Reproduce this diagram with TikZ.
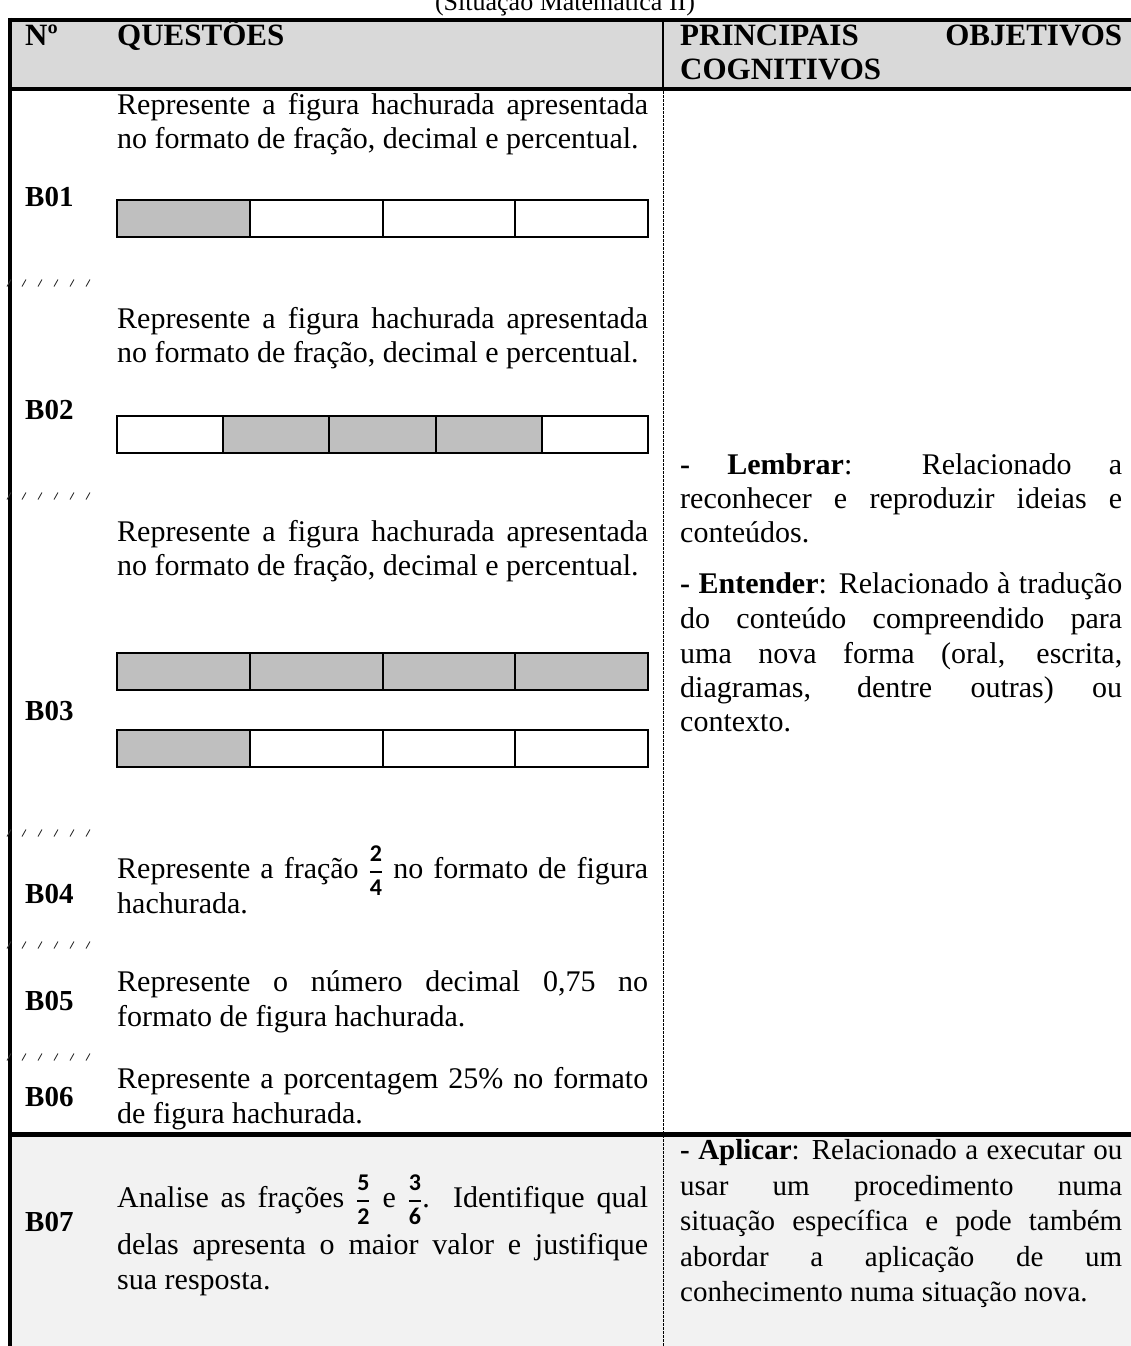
\documentclass[tikz,border=0pt]{standalone}
\usepackage{fontspec}
\usepackage{amsmath}
\setmainfont{Liberation Serif}
\newfontfamily\fracfont{Carlito}
\definecolor{hdrgray}{HTML}{D9D9D9}
\definecolor{shadecell}{HTML}{BFBFBF}
\definecolor{rowgray}{HTML}{F2F2F2}
\newcommand{\myfrac}[2]{$\genfrac{}{}{1.6pt}{0}{\mbox{\fracfont\bfseries\fontsize{24}{24}\selectfont #1}}{\mbox{\fracfont\bfseries\fontsize{24}{24}\selectfont #2}}$}
\newcommand{\jline}[2]{\makebox[#1][s]{#2}}
\tikzset{
  txt/.style={anchor=base west, inner sep=0pt, font=\fontsize{30}{34}\selectfont},
  txtb/.style={anchor=base west, inner sep=0pt, font=\fontsize{29}{34}\selectfont},
  lbl/.style={anchor=base west, inner sep=0pt, font=\fontsize{29}{34}\selectfont\bfseries},
  hdr/.style={anchor=base west, inner sep=0pt, font=\fontsize{31}{34}\selectfont\bfseries},
  ttl/.style={anchor=base, inner sep=0pt, font=\fontsize{26}{30}\selectfont},
  barcell/.style={draw=black, line width=2pt},
  hatchmark/.style={line width=0.9pt, black!80},
  dashdiv/.style={line width=0.9pt, dash pattern=on 2.5pt off 1.5pt},
  thickrule/.style={line width=4.5pt},
}
\begin{document}
\begin{tikzpicture}[x=1pt,y=-1pt]
\clip (0,0) rectangle (1131,1346);
% backgrounds
\fill[hdrgray] (10,20) rectangle (1140,89);
\fill[rowgray] (10,1134) rectangle (1140,1350);
% title
\node[ttl] (title) at (565,11) {(Situação Matemática II)};
% header rules
\draw[thickrule] (8,20) -- (1140,20);
\draw[thickrule] (8,89) -- (1140,89);
\draw[thickrule] (10,18) -- (10,1350);
\draw[line width=2.5pt] (663,20) -- (663,89);
\draw[dashdiv] (663,91) -- (663,1350);
\draw[line width=5pt] (8,1134) -- (1140,1134);
% header texts
\node[hdr] (hn) at (25,46) {Nº};
\node[hdr] (hq) at (117,46) {QUESTÕES};
\node[hdr] (hp) at (680,46) {\jline{442pt}{PRINCIPAIS OBJETIVOS}};
\node[hdr] (hc) at (680,79) {COGNITIVOS};
% hatch separators
\foreach \yy in {283,496,833,945,1057}{
  \foreach \xx in {9,24,40,56,72,88}{
    \draw[hatchmark] (\xx-2,\yy+3.5) -- (\xx+2,\yy-3.5);
  }
}
% B01
\node[txt] (q1a) at (117,114) {\jline{531pt}{Represente a figura hachurada apresentada}};
\node[txt] (q1b) at (117,148) {no formato de fração, decimal e percentual.};
\node[lbl] (b1) at (25,206) {B01};
\fill[shadecell] (117,200) rectangle (249.75,237);
\draw[barcell] (117,200) rectangle (648,237);
\foreach \xx in {249.75,382.5,515.25}{\draw[barcell] (\xx,200) -- (\xx,237);}
% B02
\node[txt] (q2a) at (117,328) {\jline{531pt}{Represente a figura hachurada apresentada}};
\node[txt] (q2b) at (117,362) {no formato de fração, decimal e percentual.};
\node[lbl] (b2) at (25,419) {B02};
\fill[shadecell] (223.2,416) rectangle (541.8,453);
\draw[barcell] (117,416) rectangle (648,453);
\foreach \xx in {223.2,329.4,435.6,541.8}{\draw[barcell] (\xx,416) -- (\xx,453);}
% B03
\node[txt] (q3a) at (117,541) {\jline{531pt}{Represente a figura hachurada apresentada}};
\node[txt] (q3b) at (117,575) {no formato de fração, decimal e percentual.};
\node[lbl] (b3) at (25,720) {B03};
\fill[shadecell] (117,653) rectangle (648,690);
\draw[barcell] (117,653) rectangle (648,690);
\foreach \xx in {249.75,382.5,515.25}{\draw[barcell] (\xx,653) -- (\xx,690);}
\fill[shadecell] (117,730) rectangle (249.75,767);
\draw[barcell] (117,730) rectangle (648,767);
\foreach \xx in {249.75,382.5,515.25}{\draw[barcell] (\xx,730) -- (\xx,767);}
% B04
\node[txt] (q4a) at (117,878) {\jline{531pt}{Represente a fração \myfrac{2}{4} no formato de figura}};
\node[txt] (q4b) at (117,913) {hachurada.};
\node[lbl] (b4) at (25,903) {B04};
% B05
\node[txt] (q5a) at (117,991) {\jline{531pt}{Represente o número decimal 0,75 no}};
\node[txt] (q5b) at (117,1026) {formato de figura hachurada.};
\node[lbl] (b5) at (25,1010) {B05};
% B06
\node[txt] (q6a) at (117,1088) {\jline{531pt}{Represente a porcentagem 25\% no formato}};
\node[txt] (q6b) at (117,1123) {de figura hachurada.};
\node[lbl] (b6) at (25,1106) {B06};
% right column, upper section
\node[txt] (r1) at (680,474) {\jline{442pt}{\textbf{-} \textbf{Lembrar}: Relacionado a}};
\node[txt] (r2) at (680,508) {\jline{442pt}{reconhecer e reproduzir ideias e}};
\node[txt] (r3) at (680,542) {conteúdos.};
\node[txt] (r4) at (680,593) {\jline{442pt}{\textbf{- Entender}: Relacionado à tradução}};
\node[txt] (r5) at (680,628) {\jline{442pt}{do conteúdo compreendido para}};
\node[txt] (r6) at (680,663) {\jline{442pt}{uma nova forma (oral, escrita,}};
\node[txt] (r7) at (680,697) {\jline{442pt}{diagramas, dentre outras) ou}};
\node[txt] (r8) at (680,731) {contexto.};
% B07
\node[lbl] (b7) at (25,1231) {B07};
\node[txt] (q7a) at (117,1207) {\jline{531pt}{Analise as frações \myfrac{5}{2} e \myfrac{3}{6}. Identifique qual}};
\node[txt] (q7b) at (117,1254) {\jline{531pt}{delas apresenta o maior valor e justifique}};
\node[txt] (q7c) at (117,1289) {sua resposta.};
\node[txtb] (s1) at (680,1159) {\jline{442pt}{\textbf{- Aplicar}: Relacionado a executar ou}};
\node[txtb] (s2) at (680,1195) {\jline{442pt}{usar um procedimento numa}};
\node[txtb] (s3) at (680,1230) {\jline{442pt}{situação específica e pode também}};
\node[txtb] (s4) at (680,1266) {\jline{442pt}{abordar a aplicação de um}};
\node[txtb] (s5) at (680,1301) {conhecimento numa situação nova.};
\end{tikzpicture}
\end{document}
